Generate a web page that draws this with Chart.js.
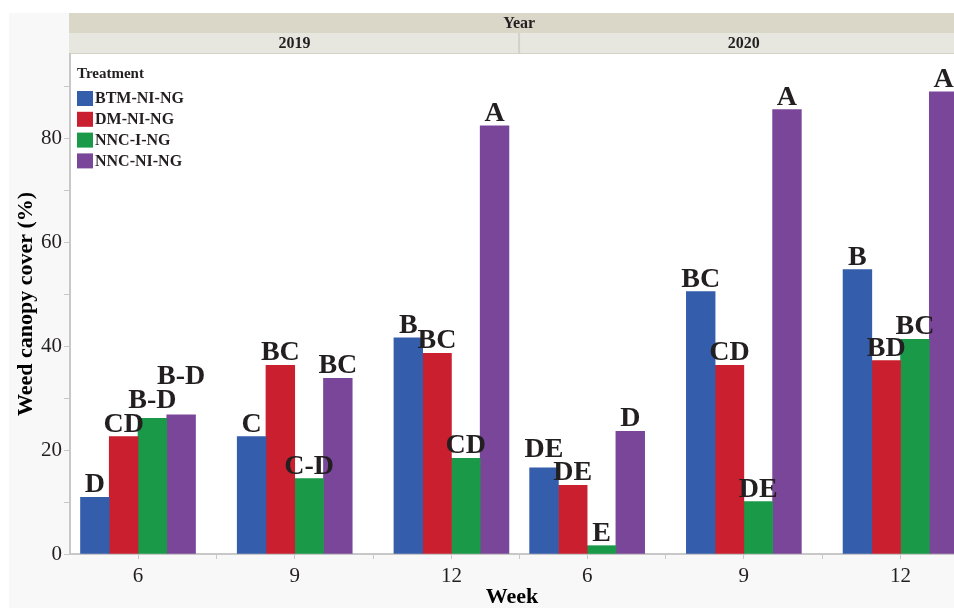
<!DOCTYPE html>
<html lang="en">
<head>
    <meta charset="UTF-8">
    <title>Weed canopy cover</title>
    <script src="https://cdn.jsdelivr.net/npm/chart.js"></script>
    <style>
        * {
            margin: 0;
            padding: 0;
            box-sizing: border-box;
        }

        body {
            background-color: #ffffff;
        }

        canvas {
            display: block;
        }
    </style>
</head>
<body>
    <canvas id="coverChart" width="954" height="608"></canvas>

    <script>
        // facets and categories
        const years = ['2019', '2020'];
        const weeks = ['6', '9', '12'];
        const treatments = ['BTM-NI-NG', 'DM-NI-NG', 'NNC-I-NG', 'NNC-NI-NG'];

        // weed canopy cover (%), ordered 2019 wk 6/9/12 then 2020 wk 6/9/12
        const btmNiNg = [10.9, 22.6, 41.6, 16.6, 50.5, 54.7];
        const dmNiNg = [22.6, 36.3, 38.6, 13.2, 36.3, 37.2];
        const nncINg = [26.1, 14.5, 18.4, 1.6, 10.1, 41.3];
        const nncNiNg = [26.8, 33.8, 82.4, 23.6, 85.5, 88.9];

        // mean separation letters
        const btmLetters = ['D', 'C', 'B', 'DE', 'BC', 'B'];
        const dmLetters = ['CD', 'BC', 'BC', 'DE', 'CD', 'BD'];
        const nncILetters = ['B-D', 'C-D', 'CD', 'E', 'DE', 'BC'];
        const nncNiLetters = ['B-D', 'BC', 'A', 'D', 'A', 'A'];

        const yTicks = [0, 20, 40, 60, 80];

        const colors = ['#345eac', '#c91f2e', '#1a9948', '#7a4699'];
        const serif = "'Liberation Serif', 'Times New Roman', serif";
        const ink = '#231f20';

        // each year panel spans PANEL units, first week sits LEAD units in
        const PANEL = 2.866;
        const LEAD = 0.434;
        const X_MAX = 5.641;

        const centers = [];
        const minorTicks = [];
        years.forEach((y, p) => {
            weeks.forEach((w, i) => {
                centers.push(p * PANEL + LEAD + i);
                if (i < weeks.length - 1) minorTicks.push(p * PANEL + LEAD + i + 0.5);
            });
            if (p > 0) minorTicks.push(p * PANEL);
        });

        const series = [btmNiNg, dmNiNg, nncINg, nncNiNg];
        const letters = [btmLetters, dmLetters, nncILetters, nncNiLetters];

        const datasets = treatments.map((name, d) => ({
            label: name,
            data: series[d].map((v, i) => ({ x: centers[i], y: v })),
            letters: letters[d],
            backgroundColor: colors[d],
            borderWidth: 0,
            barThickness: 28.75
        }));

        // frame, facet header strips and white plot area
        const facetFrame = {
            id: 'facetFrame',
            beforeDraw(chart) {
                const { ctx, chartArea: a, width, height } = chart;
                ctx.save();
                ctx.fillStyle = '#ffffff';
                ctx.fillRect(0, 0, width, height);
                ctx.fillStyle = '#f7f8f7';
                ctx.fillRect(9, 13, width - 9, height - 13);

                const x = chart.scales.x;
                const panelLeft = p => x.getPixelForValue(p * PANEL);
                const right = x.getPixelForValue(years.length * PANEL);

                ctx.fillStyle = '#dad7c9';
                ctx.fillRect(a.left - 1, 13, width, 20);
                ctx.fillStyle = '#e8e7df';
                ctx.fillRect(a.left - 1, 33, width, 21);
                ctx.fillStyle = '#d6d3c6';
                ctx.fillRect(a.left - 1, 53, width, 1);

                ctx.fillStyle = ink;
                ctx.font = 'bold 16px ' + serif;
                ctx.textAlign = 'center';
                ctx.textBaseline = 'middle';
                ctx.fillText('Year', (a.left + right) / 2, 23.5);

                years.forEach((yr, p) => {
                    const l = panelLeft(p);
                    const r = panelLeft(p + 1);
                    if (p > 0) {
                        ctx.fillStyle = '#d3d1c7';
                        ctx.fillRect(l - 1, 33, 2, 21);
                    }
                    ctx.fillStyle = ink;
                    ctx.fillText(yr, (l + r) / 2, 44);
                });

                ctx.fillStyle = '#ffffff';
                ctx.fillRect(a.left, a.top, a.right - a.left, a.bottom - a.top);
                ctx.restore();
            }
        };

        // letters above bars, pushed up when they would collide
        const barLetters = {
            id: 'barLetters',
            afterDatasetsDraw(chart) {
                const { ctx } = chart;
                const size = 28;
                const capH = size * 0.662;
                const gap = 5;
                ctx.save();
                ctx.font = 'bold ' + size + 'px ' + serif;
                ctx.fillStyle = ink;
                ctx.textAlign = 'center';
                ctx.textBaseline = 'alphabetic';

                centers.forEach((c, i) => {
                    const items = chart.data.datasets.map((ds, d) => {
                        const bar = chart.getDatasetMeta(d).data[i];
                        const text = ds.letters[i];
                        const w = ctx.measureText(text).width;
                        return { text, x: bar.x, l: bar.x - w / 2, r: bar.x + w / 2, base: bar.y - gap };
                    });
                    items.sort((a, b) => b.base - a.base);
                    const placed = [];
                    items.forEach(it => {
                        let moved = true;
                        while (moved) {
                            moved = false;
                            for (const p of placed) {
                                const hOver = Math.min(it.r, p.r) - Math.max(it.l, p.l);
                                const vOver = Math.min(it.base, p.base) - Math.max(it.base - capH, p.base - capH);
                                if (hOver > 3 && vOver > -2) {
                                    it.base = p.base - capH - gap;
                                    moved = true;
                                }
                            }
                        }
                        placed.push(it);
                        ctx.fillText(it.text, it.x, it.base);
                    });
                });
                ctx.restore();
            }
        };

        // treatment key in the upper left of the plot
        const treatmentKey = {
            id: 'treatmentKey',
            afterDraw(chart) {
                const { ctx, chartArea: a } = chart;
                const x0 = a.left + 7;
                ctx.save();
                ctx.fillStyle = ink;
                ctx.textAlign = 'left';
                ctx.textBaseline = 'middle';
                ctx.font = 'bold 15px ' + serif;
                ctx.fillText('Treatment', x0, 74);
                ctx.font = 'bold 16px ' + serif;
                chart.data.datasets.forEach((ds, d) => {
                    const top = 91 + d * 20.8;
                    ctx.fillStyle = ds.backgroundColor;
                    ctx.fillRect(x0, top, 16, 15);
                    ctx.fillStyle = ink;
                    ctx.fillText(ds.label, x0 + 18, top + 8);
                });
                ctx.restore();
            }
        };

        const ctx = document.getElementById('coverChart').getContext('2d');

        new Chart(ctx, {
            type: 'bar',
            data: { datasets },
            plugins: [facetFrame, barLetters, treatmentKey],
            options: {
                responsive: false,
                animation: false,
                layout: {
                    padding: { top: 54, left: 0, right: 0, bottom: 0 }
                },
                scales: {
                    x: {
                        type: 'linear',
                        offset: false,
                        min: 0,
                        max: X_MAX,
                        afterBuildTicks(scale) {
                            scale.ticks = centers.concat(minorTicks)
                                .sort((a, b) => a - b)
                                .map(v => ({ value: v }));
                        },
                        afterFit(scale) {
                            scale.height = 54;
                        },
                        ticks: {
                            autoSkip: false,
                            maxRotation: 0,
                            padding: 5,
                            color: ink,
                            font: { family: serif, size: 21 },
                            callback(value) {
                                const i = centers.findIndex(c => Math.abs(c - value) < 1e-6);
                                return i < 0 ? '' : weeks[i % weeks.length];
                            }
                        },
                        grid: {
                            offset: false,
                            drawOnChartArea: false,
                            drawTicks: true,
                            tickLength: 5,
                            tickColor: '#c8c8c8'
                        },
                        border: {
                            color: '#c8c8c8',
                            width: 2
                        },
                        title: {
                            display: true,
                            text: 'Week',
                            color: '#000',
                            padding: { top: 0, bottom: 0 },
                            font: { family: serif, size: 22, weight: 'bold', lineHeight: 1 }
                        }
                    },
                    y: {
                        min: 0,
                        max: 96.2,
                        afterFit(scale) {
                            scale.width = 70;
                        },
                        ticks: {
                            stepSize: 10,
                            includeBounds: false,
                            padding: 2,
                            color: ink,
                            font: { family: serif, size: 21 },
                            callback(value) {
                                return yTicks.includes(value) ? value : '';
                            }
                        },
                        grid: {
                            drawOnChartArea: false,
                            drawTicks: true,
                            tickLength: 6,
                            tickColor: '#c8c8c8'
                        },
                        border: {
                            color: '#c8c8c8',
                            width: 2
                        },
                        title: {
                            display: true,
                            text: 'Weed canopy cover (%)',
                            color: '#000',
                            padding: { top: 15, bottom: 0 },
                            font: { family: serif, size: 22, weight: 'bold', lineHeight: 1 }
                        }
                    }
                },
                plugins: {
                    legend: { display: false },
                    tooltip: { enabled: false }
                }
            }
        });
    </script>
</body>
</html>
